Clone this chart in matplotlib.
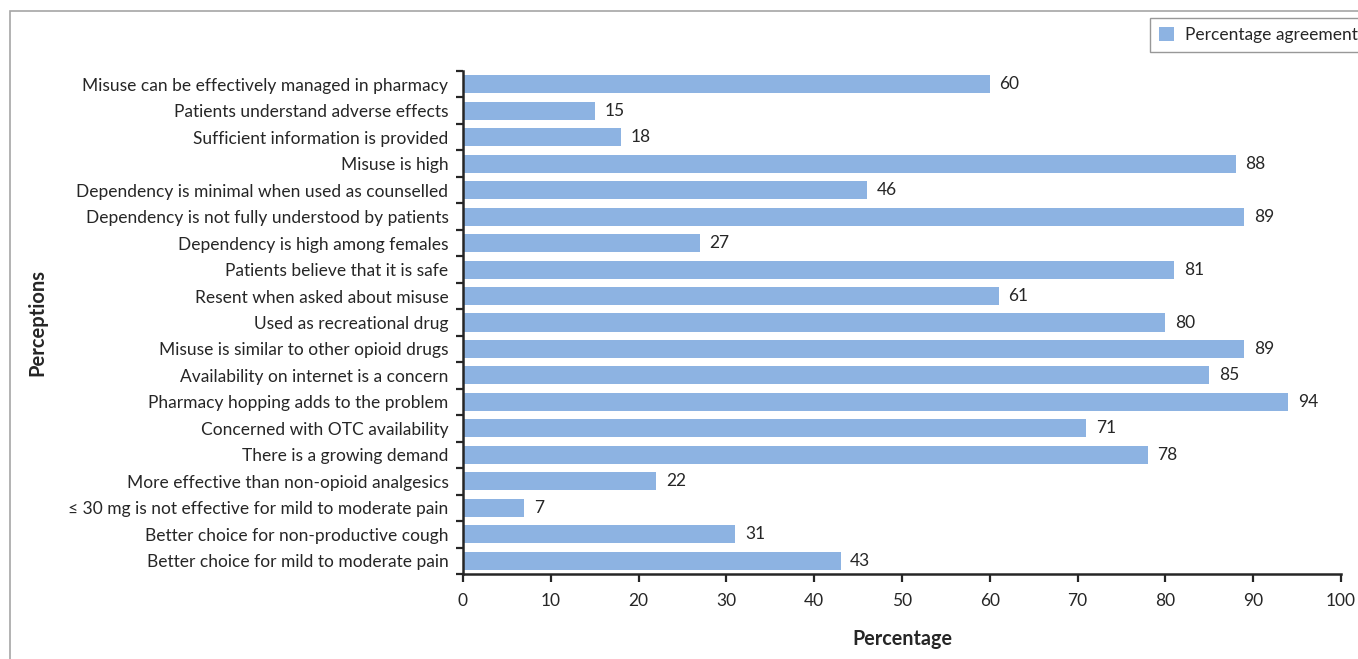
import matplotlib.pyplot as plt
from matplotlib.patches import Rectangle, Patch

perceptions = [
    'Misuse can be effectively managed in pharmacy',
    'Patients understand adverse effects',
    'Sufficient information is provided',
    'Misuse is high',
    'Dependency is minimal when used as counselled',
    'Dependency is not fully understood by patients',
    'Dependency is high among females',
    'Patients believe that it is safe',
    'Resent when asked about misuse',
    'Used as recreational drug',
    'Misuse is similar to other opioid drugs',
    'Availability on internet is a concern',
    'Pharmacy hopping adds to the problem',
    'Concerned with OTC availability',
    'There is a growing demand',
    'More effective than non-opioid analgesics',
    '\u2264 30 mg is not effective for mild to moderate pain',
    'Better choice for non-productive cough',
    'Better choice for mild to moderate pain',
]
agreement = [60, 15, 18, 88, 46, 89, 27, 81, 61, 80, 89, 85, 94, 71, 78, 22, 7, 31, 43]

bar_color = '#8DB3E2'
text_color = '#262626'
fs = 12.5
plt.rcParams['font.family'] = ['Lato', 'DejaVu Sans']

fig = plt.figure(figsize=(13.58, 6.59), dpi=100)
ax = fig.add_axes([463/1358, 1 - 574/659, (1341 - 463)/1358, (574 - 71)/659])

# outer chart border, right and bottom edges run off the image
fig.patches.append(Rectangle((10/1358, -0.5), 2, 1.5 - 11/659, transform=fig.transFigure,
                             fill=False, edgecolor='#a6a6a6', linewidth=1.2))

y = list(range(len(perceptions)))
ax.barh(y, agreement, height=0.68, color=bar_color)
for yi, v in zip(y, agreement):
    ax.text(v + 1.1, yi, str(v), va='center', ha='left', fontsize=fs, color=text_color)

ax.set_ylim(len(perceptions) - 0.5, -0.5)
ax.set_xlim(0, 100)
ax.set_xticks(range(0, 101, 10))
ax.set_yticks(y)
ax.set_yticklabels(perceptions)
ax.set_yticks([i - 0.5 for i in range(len(perceptions) + 1)], minor=True)
ax.tick_params(axis='y', which='major', length=0, pad=10.5, labelsize=fs, labelcolor=text_color)
ax.tick_params(axis='y', which='minor', length=5, width=1.6, color='#262626', direction='out')
ax.tick_params(axis='x', length=6, width=1.6, color='#262626', labelsize=fs,
               labelcolor=text_color, pad=8)

for s in ['top', 'right']:
    ax.spines[s].set_visible(False)
for s in ['left', 'bottom']:
    ax.spines[s].set_linewidth(1.8)
    ax.spines[s].set_color('#262626')

ax.set_xlabel('Percentage', fontsize=14.2, fontweight='bold', color=text_color, labelpad=14)
fig.text(37/1358, 1 - 322/659, 'Perceptions', rotation=90, ha='center', va='center',
         fontsize=14.5, fontweight='bold', color=text_color)

leg = fig.legend(handles=[Patch(facecolor=bar_color, label='Percentage agreement')],
                 loc='upper left', bbox_to_anchor=(1150/1358, 1 - 18/659), borderaxespad=0,
                 frameon=True, fancybox=False, fontsize=fs, handlelength=0.9,
                 handleheight=0.9, handletextpad=0.6, borderpad=0.5)
leg.get_frame().set_edgecolor('#7f7f7f')
leg.get_frame().set_linewidth(1.0)
for t in leg.get_texts():
    t.set_color(text_color)

fig.savefig('out.png', dpi=100)
